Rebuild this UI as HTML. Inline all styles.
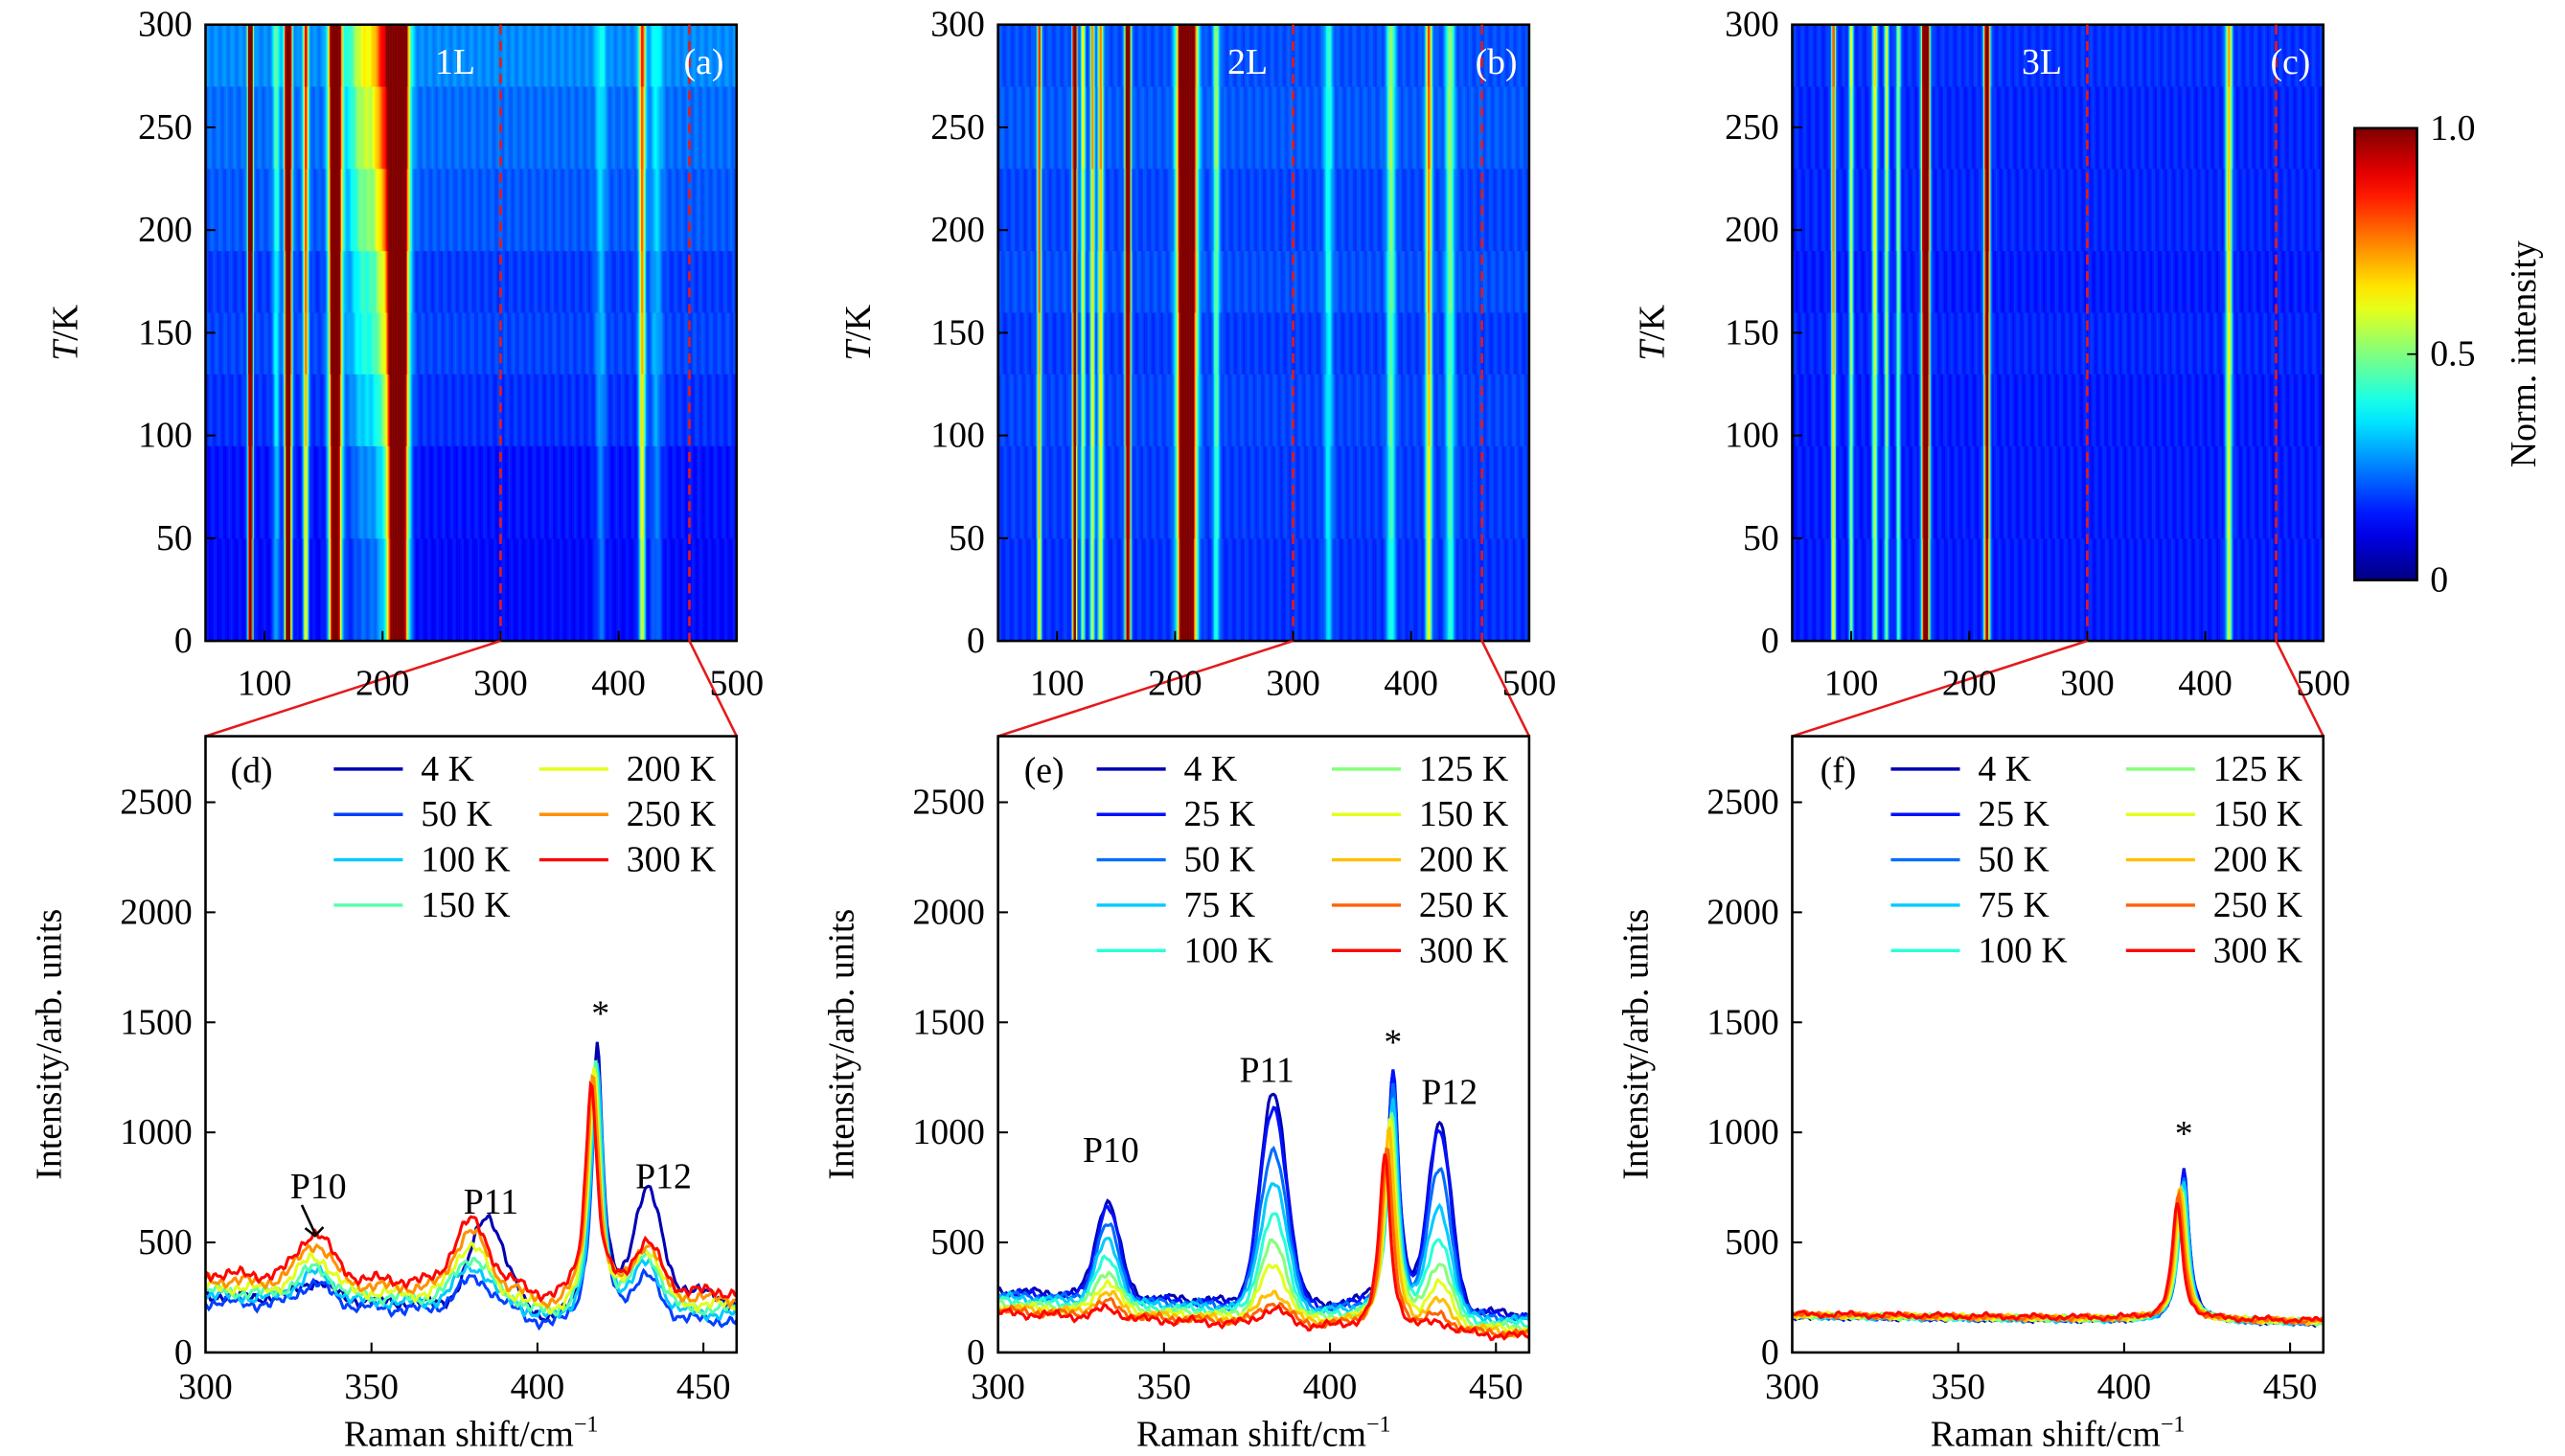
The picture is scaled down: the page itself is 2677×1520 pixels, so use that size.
<!DOCTYPE html>
<html><head><meta charset="utf-8"><style>
html,body{margin:0;padding:0;background:#fff;}
svg{display:block;font-family:"Liberation Serif","DejaVu Serif",serif;}
</style></head><body>
<svg id="fig" width="2677" height="1520" viewBox="0 0 1560 886" preserveAspectRatio="none" xmlns="http://www.w3.org/2000/svg"></svg>
<script>
// ---------- data ----------
const tBandEdges = [0,50,95,130,160,190,230,270,300];
const bgA = [0.13,0.14,0.17,0.19,0.18,0.21,0.23,0.26];
const peakCentersA = [88,110,120,135,160,185,200,213,385,420,432];
const peakWidthsA  = [1.3,2,1.8,1.5,3.2,10,5,5,3,1.8,3.5];
const peakAmpsA    = [1.5,0.2,1.5,0.6,1.5,0.3,0.35,2.0,0.12,0.55,0.12];
const broadScaleA  = [0.3,0.4,0.55,0.7,0.8,0.95,1.1,1.2];
const bgB = [0.17,0.18,0.19,0.18,0.20,0.19,0.21,0.20];
const peakCentersB = [85,115,122,130,137,160,210,235,330,383,415,433];
const peakWidthsB  = [1.2,1.2,1.2,1.2,1.5,1.5,4.5,1.8,2.5,2.5,1.8,2.5];
const peakAmpsB    = [0.6,1.2,0.4,0.5,0.5,1.2,2.0,0.3,0.2,0.3,0.55,0.3];
const bgC = [0.15,0.15,0.15,0.16,0.15,0.16,0.16,0.17];
const peakCentersC = [85,100,120,130,140,163,215,420];
const peakWidthsC  = [1.2,1.2,1.5,1.2,1.2,2,1.6,1.8];
const peakAmpsC    = [0.6,0.4,0.45,0.4,0.35,1.5,1.0,0.5];

const tempsD = [4,50,100,150,200,250,300];
const baseD  = [260,230,260,280,300,330,360];
const centersD = [333,380,385,418,433];
const ampsD = [
 [80,0,400,1200,480],[100,120,40,1100,170],[120,150,30,1120,200],
 [120,180,20,1100,220],[150,230,0,1060,230],[180,260,0,1020,220],[200,280,0,950,200]];
const shiftD = [0,0,0,-0.5,-0.8,-1.2,-1.8];

const tempsE = [4,25,50,75,100,125,150,200,250,300];
const baseE  = [280,270,260,250,235,220,210,200,190,180];
const centersE = [333,383,419,433];
const ampsE = [
 [430,950,1080,830],[410,900,1100,800],[340,720,1030,640],[280,580,980,480],[220,440,950,360],
 [170,330,950,260],[130,240,930,180],[90,130,900,110],[60,90,820,60],[40,70,800,40]];
const shiftE = [0,0,0,0,-0.3,-0.5,-0.8,-1.2,-1.8,-2.5];

const tempsF = [4,25,50,75,100,125,150,200,250,300];
const baseF  = [165,165,165,165,168,168,170,170,172,175];
const ampsF  = [690,680,650,630,610,600,590,600,570,530];
const shiftF = [0,0,0,0,-0.3,-0.5,-0.8,-1.2,-1.6,-2.0];

// ---------- helpers ----------
const NS="http://www.w3.org/2000/svg";
const svg=document.getElementById('fig');
function mk(tag,attrs,parent){const e=document.createElementNS(NS,tag);for(const k in attrs)e.setAttribute(k,attrs[k]);(parent||svg).appendChild(e);return e;}
function clamp(v){return Math.max(0,Math.min(1,v));}
function jet(v){v=clamp(v);const r=clamp(1.5-Math.abs(4*v-3)),g=clamp(1.5-Math.abs(4*v-2)),b=clamp(1.5-Math.abs(4*v-1));return `rgb(${Math.round(r*255)},${Math.round(g*255)},${Math.round(b*255)})`;}
function lor(x,c,w){return 1/(1+((x-c)/w)**2);}
function gau(x,c,w){return Math.exp(-0.5*((x-c)/w)**2);}
function ripple(x,k){return Math.sin(x*1.7+k*2.3)*0.5+Math.sin(x*3.1+k)*0.3+Math.sin(x*0.45+k*1.1)*0.6;}
function txt(x,y,s,size,anchor,name,parent){const t=mk('text',{x:x,y:y,'font-size':size,'text-anchor':anchor||'middle'},parent);t.textContent=s;return t;}

const colX=[125,607,1090], W=323;
const topY0=15, topY1=390, botY0=448, botY1=823;

function heatPanel(i,bg,centers,widths,amps,label,letter,broadScale){
  const x0=colX[i];
  const g=mk('g',{});
  
  
  const sx=v=>x0+(v-50)/450*W, sy=t=>topY1-t/300*(topY1-topY0);
  for(let b=0;b<bg.length;b++){
    const y1=sy(tBandEdges[b]),y2=sy(tBandEdges[b+1]);
    const mult=0.85+0.04*b;
    for(let x=50;x<500;x+=1){
      let v=bg[b]+0.02*Math.sin(x*0.9+b*1.7);
      for(let p=0;p<centers.length;p++){
        let a=amps[p]*mult;
        if(broadScale && widths[p]>=5 && amps[p]<1) a=amps[p]*broadScale[b];
        v+=a*gau(x+0.5,centers[p],widths[p]);
      }
      const r=mk('rect',{x:sx(x).toFixed(2),y:y2.toFixed(2),width:(W/450+0.15).toFixed(2),height:(y1-y2+0.3).toFixed(2),fill:jet(v)},g);
      
      
    }
  }
  mk('rect',{x:x0,y:topY0,width:W,height:topY1-topY0,fill:'none',stroke:'#000','stroke-width':1.5},g);
  [300,460].forEach(v=>{const l=mk('line',{x1:sx(v),x2:sx(v),y1:topY0,y2:topY1,stroke:'#e41a1c','stroke-width':1.5,'stroke-dasharray':'6,4'});});
  const c1=mk('line',{x1:sx(300),y1:topY1,x2:x0,y2:botY0,stroke:'#e41a1c','stroke-width':1.5});
  const c2=mk('line',{x1:sx(460),y1:topY1,x2:x0+W,y2:botY0,stroke:'#e41a1c','stroke-width':1.5});
  [100,200,300,400,500].forEach(v=>{mk('line',{x1:sx(v),x2:sx(v),y1:topY1,y2:topY1-6,stroke:'#000','stroke-width':1.2});txt(sx(v),topY1+33,String(v),22,'middle','x-tick-label');});
  [0,50,100,150,200,250,300].forEach(v=>{mk('line',{x1:x0,x2:x0+6,y1:sy(v),y2:sy(v),stroke:'#000','stroke-width':1.2});txt(x0-8,sy(v)+7,String(v),22,'end','y-tick-label');});
  const yl=txt(0,0,'',22,'middle','y-axis-title');
  yl.setAttribute('transform',`translate(${x0-78},${(topY0+topY1)/2}) rotate(-90)`);
  yl.innerHTML='<tspan font-style="italic">T</tspan>/K';
  const lb=txt(x0+W*0.47,topY0+30,label,22,'middle','panel-label');lb.setAttribute('fill','#fff');
  const lt=txt(x0+W-20,topY0+30,'('+letter+')',22,'middle','panel-letter');lt.setAttribute('fill','#fff');
}
heatPanel(0,bgA,peakCentersA,peakWidthsA,peakAmpsA,'1L','a',broadScaleA);
heatPanel(1,bgB,peakCentersB,peakWidthsB,peakAmpsB,'2L','b');
heatPanel(2,bgC,peakCentersC,peakWidthsC,peakAmpsC,'3L','c');

// colorbar
(function(){
  const x=1432,y0=78,y1=353,w=38;
  const defs=mk('defs',{});
  const lg=mk('linearGradient',{id:'jetg',x1:0,y1:1,x2:0,y2:0},defs);
  for(let i=0;i<=20;i++)mk('stop',{offset:i/20,'stop-color':jet(i/20)},lg);
  const r=mk('rect',{x:x,y:y0,width:w,height:y1-y0,fill:'url(#jetg)',stroke:'#000','stroke-width':1.5});
  
  [[0,'0'],[0.5,'0.5'],[1,'1.0']].forEach(([v,s])=>{const yy=y1-v*(y1-y0);mk('line',{x1:x+w-6,x2:x+w,y1:yy,y2:yy,stroke:'#000'});txt(x+w+8,yy+7,s,22,'start','colorbar-tick');});
  const t=txt(0,0,'Norm. intensity',22,'middle','colorbar-title');t.setAttribute('transform',`translate(1542,${(y0+y1)/2}) rotate(-90)`);
})();

function specPanel(i,letter,temps,colorFn,curveFn,legendCols,annots){
  const x0=colX[i];
  const sx=v=>x0+(v-300)/160*W, sy=v=>botY1-v/2800*(botY1-botY0);
  const g=mk('g',{});
  temps.forEach((T,k)=>{
    let d='';
    for(let x=300;x<=460;x+=0.5){const y=curveFn(k,x);d+=(x===300?'M':'L')+sx(x).toFixed(2)+','+sy(y).toFixed(2);}
    const p=mk('path',{d:d,fill:'none',stroke:colorFn(k),'stroke-width':1.8},g);
    
  });
  mk('rect',{x:x0,y:botY0,width:W,height:botY1-botY0,fill:'none',stroke:'#000','stroke-width':1.5});
  [300,350,400,450].forEach(v=>{mk('line',{x1:sx(v),x2:sx(v),y1:botY1,y2:botY1-6,stroke:'#000','stroke-width':1.2});txt(sx(v),botY1+28,String(v),22,'middle','x-tick-label');});
  [0,500,1000,1500,2000,2500].forEach(v=>{mk('line',{x1:x0,x2:x0+6,y1:sy(v),y2:sy(v),stroke:'#000','stroke-width':1.2});txt(x0-8,sy(v)+7,String(v),22,'end','y-tick-label');});
  const xt=txt(x0+W/2,botY1+57,'',22,'middle','x-axis-title');xt.innerHTML='Raman shift/cm<tspan dy="-9" font-size="14">−1</tspan>';
  const yt=txt(0,0,'Intensity/arb. units',22,'middle','y-axis-title');yt.setAttribute('transform',`translate(${x0-88},${(botY0+botY1)/2}) rotate(-90)`);
  txt(x0+28,botY0+28,'('+letter+')',22,'middle','panel-letter');
  temps.forEach((T,k)=>{
    const col=Math.floor(k/legendCols),row=k%legendCols;
    const lx=x0+(i===0?78:60)+col*(i===0?125:143), ly=botY0+20+row*27.6;
    const le=mk('g',{});
    mk('line',{x1:lx,x2:lx+42,y1:ly,y2:ly,stroke:colorFn(k),'stroke-width':2},le);
    txt(lx+53,ly+7,T+' K',22,'start','legend-label',le);
  });
  annots.forEach(a=>txt(sx(a[0]),sy(a[1]),a[2],22,'middle','peak-label'));
  return {sx,sy};
}
function colD(k,n){return jet(0.05+0.82*k/(n-1));}
const pd=specPanel(0,'d',tempsD,k=>colD(k,tempsD.length),(k,x)=>{
  let y=baseD[k]-90*(x-300)/160;
  const w=[5,5,5,2,4];
  for(let p=0;p<centersD.length;p++)y+=ampsD[k][p]*(p===3?lor(x,centersD[p]+shiftD[k],w[p]):gau(x,centersD[p],w[p]));
  if(k===0)y+=100*gau(x,445,12);
  if(x>395&&x<414)y-=60*gau(x,405,6);
  return y+25*ripple(x,k);},4,[[334,700,'P10'],[386,630,'P11'],[419,1485,'*'],[438,745,'P12']]);
(function(){const a=mk('line',{x1:pd.sx(329),y1:pd.sy(670),x2:pd.sx(333),y2:pd.sy(540),stroke:'#000','stroke-width':1.5});
const h=mk('path',{d:`M${pd.sx(333)-6},${pd.sy(565)} L${pd.sx(333)},${pd.sy(530)} L${pd.sx(333)+5},${pd.sy(570)}`,fill:'none',stroke:'#000','stroke-width':1.5});})();

specPanel(1,'e',tempsE,k=>colD(k,tempsE.length),(k,x)=>{
  let y=baseE[k]-110*(x-300)/160;
  const w=[3.5,4,2,3.5];
  for(let p=0;p<centersE.length;p++)y+=ampsE[k][p]*(p===2?lor(x,centersE[p]+shiftE[k],w[p]):gau(x,centersE[p],w[p]));
  return y+18*ripple(x,k);},5,[[334,865,'P10'],[381,1230,'P11'],[419,1355,'*'],[436,1130,'P12']]);

specPanel(2,'f',tempsF,k=>colD(k,tempsF.length),(k,x)=>{
  let y=baseF[k]-30*(x-300)/160;
  y+=ampsF[k]*lor(x,418+shiftF[k],1.8);
  return y+12*ripple(x,k);},5,[[418,940,'*']]);
</script>
</body></html>
